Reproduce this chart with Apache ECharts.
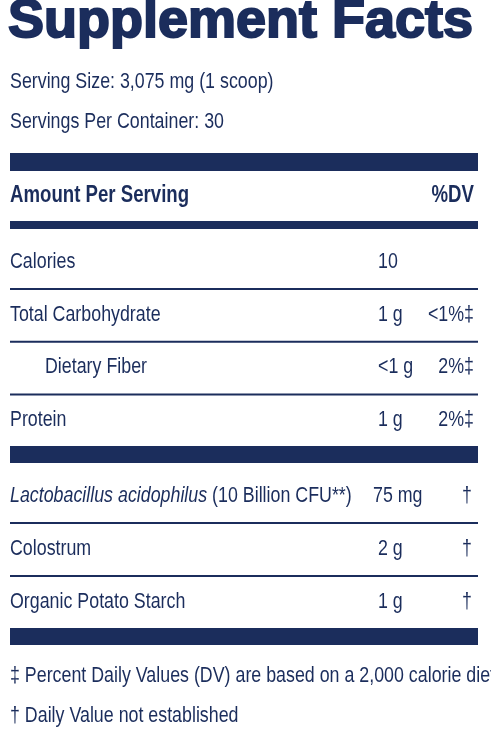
<!DOCTYPE html>
<html><head><meta charset="utf-8">
<script src="https://cdn.jsdelivr.net/npm/echarts@6/dist/echarts.min.js"></script>
<style>html,body{margin:0;padding:0;background:#fff}#c{width:491px;height:739px}</style>
</head><body><div id="c"></div>
<script>
const title = "Supplement Facts";
const servingLines = ["Serving Size: 3,075 mg (1 scoop)", "Servings Per Container: 30"];
const headerLabels = ["Amount Per Serving", "%DV"];
const nutrientNames = ["Calories", "Total Carbohydrate", "Dietary Fiber", "Protein"];
const nutrientAmounts = ["10", "1 g", "<1 g", "1 g"];
const nutrientDV = ["", "<1%‡", "2%‡", "2%‡"];
const nutrientIndent = [false, false, true, false];
const otherNames = ["Lactobacillus acidophilus", "Colostrum", "Organic Potato Starch"];
const otherItalic = [true, false, false];
const otherNotes = [" (10 Billion CFU**)", "", ""];
const otherAmounts = ["75 mg", "2 g", "1 g"];
const otherDV = ["†", "†", "†"];
const footnotes = ["‡ Percent Daily Values (DV) are based on a 2,000 calorie diet", "† Daily Value not established"];

const C = "#1b2d5c", F = "'Liberation Sans',Arial,sans-serif", SX = 0.81;
const L = 10, R = 478, g = [];
function txt(x, y, s, o, sx) { g.push({type:'text', x, y, scaleX: sx||SX, style:Object.assign({text:s, fill:C, font:'22px '+F, textVerticalAlign:'middle'}, o||{})}); }
function bar(y, h) { g.push({type:'rect', shape:{x:L, y, width:R-L, height:h}, style:{fill:C}}); }
function line(y) { g.push({type:'rect', shape:{x:L, y, width:R-L, height:2}, style:{fill:C}}); }

txt(8, 22, title, {font:'bold 54px '+F, stroke:C, lineWidth:2}, 1.0);
servingLines.forEach((s,i)=>txt(L, 82+i*40, s));
bar(153, 18);
txt(L, 196, headerLabels[0], {font:'bold 23px '+F});
txt(474, 196, headerLabels[1], {font:'bold 23px '+F, textAlign:'right'});
bar(221, 8);
nutrientNames.forEach((n,i)=>{
  const y = 262 + i*52.7;
  txt(nutrientIndent[i] ? 45 : L, y, n);
  txt(378, y, nutrientAmounts[i]);
  if (nutrientDV[i]) txt(474, y, nutrientDV[i], {textAlign:'right'});
  if (i < nutrientNames.length-1) line(y+26);
});
bar(446, 17);
otherNames.forEach((n,i)=>{
  const y = 496 + i*53;
  g.push({type:'text', x:L, y, scaleX:SX, style:{rich:{a:{font:'italic 22px '+F, fill:C}, b:{font:'22px '+F, fill:C}}, text:(otherItalic[i]?'{a|':'{b|')+n+'}'+(otherNotes[i]?'{b|'+otherNotes[i]+'}':''), textVerticalAlign:'middle'}});
  txt(i===0?373:378, y, otherAmounts[i]);
  txt(472, y, otherDV[i], {textAlign:'right'});
  if (i < otherNames.length-1) line(y+26);
});
bar(628, 17);
footnotes.forEach((s,i)=>txt(L, 676+i*40, s));

const chart = echarts.init(document.getElementById('c'));
chart.setOption({graphic: g});
</script></body></html>
